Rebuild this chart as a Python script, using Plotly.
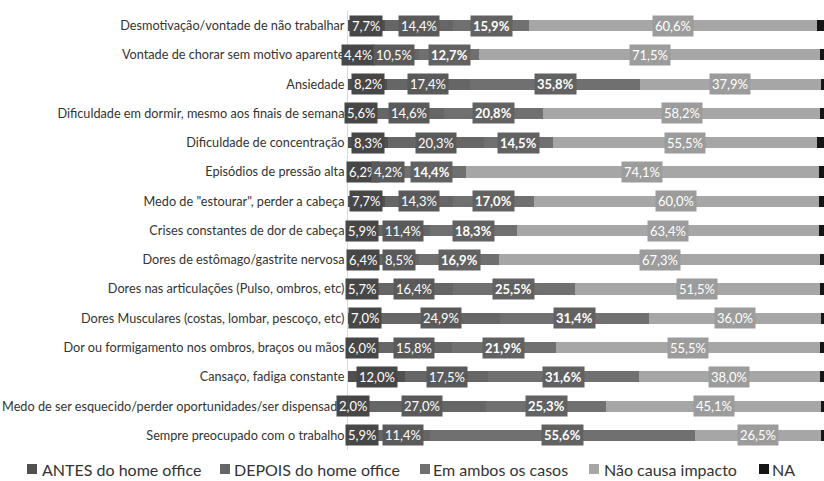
import plotly.graph_objects as go

categories = [
    "Desmotivação/vontade de não trabalhar",
    "Vontade de chorar sem motivo aparente",
    "Ansiedade",
    "Dificuldade em dormir, mesmo aos finais de semana",
    "Dificuldade de concentração",
    "Episódios de pressão alta",
    "Medo de \"estourar\", perder a cabeça",
    "Crises constantes de dor de cabeça",
    "Dores de estômago/gastrite nervosa",
    "Dores nas articulações (Pulso, ombros, etc)",
    "Dores Musculares (costas, lombar, pescoço, etc)",
    "Dor ou formigamento nos ombros, braços ou mãos",
    "Cansaço, fadiga constante",
    "Medo de ser esquecido/perder oportunidades/ser dispensado",
    "Sempre preocupado com o trabalho",
]

antes = [7.7, 4.4, 8.2, 5.6, 8.3, 6.2, 7.7, 5.9, 6.4, 5.7, 7.0, 6.0, 12.0, 2.0, 5.9]
depois = [14.4, 10.5, 17.4, 14.6, 20.3, 4.2, 14.3, 11.4, 8.5, 16.4, 24.9, 15.8, 17.5, 27.0, 11.4]
ambos = [15.9, 12.7, 35.8, 20.8, 14.5, 14.4, 17.0, 18.3, 16.9, 25.5, 31.4, 21.9, 31.6, 25.3, 55.6]
nao_impacto = [60.6, 71.5, 37.9, 58.2, 55.5, 74.1, 60.0, 63.4, 67.3, 51.5, 36.0, 55.5, 38.0, 45.1, 26.5]
na = [1.4, 0.9, 0.7, 0.8, 1.4, 1.1, 1.0, 1.0, 0.9, 0.9, 0.7, 0.8, 0.9, 0.6, 0.6]

series_names = ["ANTES do home office", "DEPOIS do home office", "Em ambos os casos",
                "Não causa impacto", "NA"]
series_values = [antes, depois, ambos, nao_impacto, na]
bar_colors = ["#505050", "#666666", "#707070", "#a6a6a6", "#151515"]
box_colors = ["#474747", "#5a5a5a", "#626262", "#9c9c9c", "#151515"]
label_bold = [False, False, True, False, False]
show_labels = [True, True, True, True, False]

FONT = "Lato, 'Open Sans', sans-serif"

fig = go.Figure()
for name, vals, col in zip(series_names, series_values, bar_colors):
    fig.add_trace(go.Bar(
        y=categories, x=vals, name=name, orientation="h",
        marker=dict(color=col, line=dict(width=0)),
        width=0.38, showlegend=False,
    ))

annotations = []
cum = [0.0] * len(categories)
for k, vals in enumerate(series_values):
    for i, v in enumerate(vals):
        if show_labels[k]:
            txt = f"{v:.1f}".replace(".", ",") + "%"
            if label_bold[k]:
                txt = "<b>" + txt + "</b>"
            annotations.append(dict(
                x=cum[i] + v / 2, y=categories[i], xref="x", yref="y",
                text=txt, showarrow=False,
                font=dict(family=FONT, size=13, color="white"),
                bgcolor=box_colors[k], borderpad=2,
                xanchor="center", yanchor="middle",
            ))
        cum[i] += v

# legend built as square shapes + labels
legend_sq_px = [27, 220, 420, 589, 759]
legend_tx_px = [40, 232, 431, 602, 770]
plot_left, plot_w, plot_bottom, plot_h = 348, 476, 450, 439
legend_cy = 469
shapes = []
for name, col, sx, tx in zip(series_names, bar_colors, legend_sq_px, legend_tx_px):
    shapes.append(dict(
        type="rect", xref="paper", yref="paper",
        x0=(sx - plot_left) / plot_w, x1=(sx + 10 - plot_left) / plot_w,
        y0=(plot_bottom - (legend_cy + 5)) / plot_h,
        y1=(plot_bottom - (legend_cy - 5)) / plot_h,
        fillcolor=col, line=dict(width=0),
    ))
    annotations.append(dict(
        x=(tx - plot_left) / plot_w, y=(plot_bottom - legend_cy) / plot_h,
        xref="paper", yref="paper",
        text=name, showarrow=False, xanchor="left", yanchor="middle",
        font=dict(family=FONT, size=16, color="#333333"),
    ))

fig.update_layout(
    barmode="stack",
    width=824, height=481,
    margin=dict(l=348, r=0, t=11, b=31),
    paper_bgcolor="white", plot_bgcolor="white",
    font=dict(family=FONT, size=13, color="#333333"),
    xaxis=dict(range=[0, 100], visible=False, fixedrange=True),
    yaxis=dict(autorange="reversed", showline=True, linecolor="#d9d9d9",
               linewidth=1, ticks="", showgrid=False, automargin=False,
               fixedrange=True,
               tickfont=dict(family=FONT, size=12.7, color="#333333")),
    annotations=annotations,
    shapes=shapes,
    showlegend=False,
)

fig.write_html("out.html", config={"displayModeBar": False},
               post_script="document.body.style.margin='0';document.body.style.overflow='hidden';")
